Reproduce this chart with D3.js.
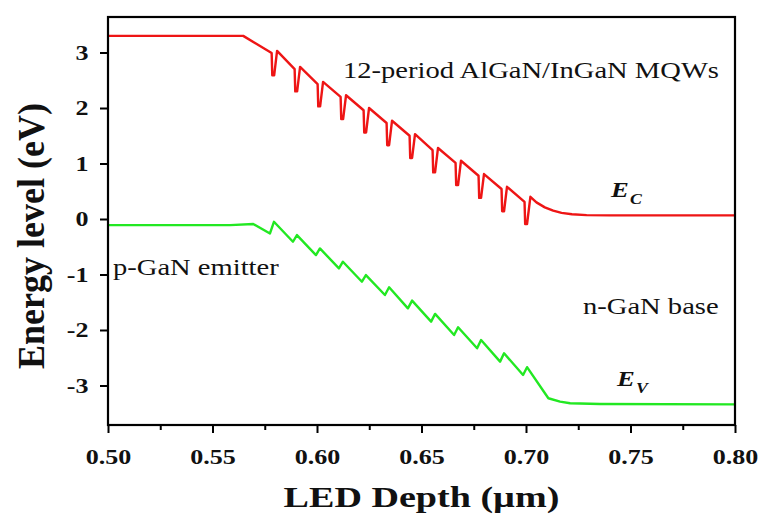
<!DOCTYPE html>
<html>
<head>
<meta charset="utf-8">
<script src="https://cdn.jsdelivr.net/npm/d3@7"></script>
<style>
  html, body { margin: 0; padding: 0; background: #fff; }
  svg { display: block; }
  text { font-family: "Liberation Serif", "Times New Roman", serif; }
</style>
</head>
<body>
<svg id="chart" width="760" height="519"></svg>
<script>
// ---- data ----
const xTicks = [0.50, 0.55, 0.60, 0.65, 0.70, 0.75, 0.80];
const xMinorTicks = [0.525, 0.575, 0.625, 0.675, 0.725, 0.775];
const yTicks = [-3, -2, -1, 0, 1, 2, 3];

// Conduction band Ec (red): depth (µm) and energy (eV)
const ecDepth = [
  0.5000, 0.5647,
  0.5783, 0.5786, 0.5795, 0.5809,
  0.5893, 0.5896, 0.5905, 0.5919,
  0.6003, 0.6006, 0.6015, 0.6029,
  0.6113, 0.6116, 0.6125, 0.6139,
  0.6223, 0.6226, 0.6235, 0.6249,
  0.6333, 0.6336, 0.6345, 0.6359,
  0.6443, 0.6446, 0.6455, 0.6469,
  0.6553, 0.6556, 0.6565, 0.6579,
  0.6663, 0.6666, 0.6675, 0.6689,
  0.6773, 0.6776, 0.6785, 0.6799,
  0.6883, 0.6886, 0.6895, 0.6909,
  0.6993, 0.6996, 0.7005, 0.7021,
  0.7050, 0.7090, 0.7130, 0.7170, 0.7220, 0.7290, 0.7400, 0.8000
];
const ecEnergy = [
  3.30, 3.30,
  2.99, 2.59, 2.59, 3.03,
  2.70, 2.30, 2.30, 2.74,
  2.43, 2.03, 2.03, 2.47,
  2.20, 1.80, 1.80, 2.23,
  1.96, 1.56, 1.56, 2.00,
  1.73, 1.33, 1.33, 1.77,
  1.50, 1.10, 1.10, 1.53,
  1.24, 0.84, 0.84, 1.28,
  1.01, 0.61, 0.61, 1.05,
  0.78, 0.38, 0.38, 0.81,
  0.54, 0.14, 0.14, 0.58,
  0.31, -0.09, -0.09, 0.40,
  0.30, 0.21, 0.15, 0.11, 0.085, 0.07, 0.065, 0.065
];

// Valence band Ev (green)
const evDepth = [
  0.5000, 0.5584, 0.5695,
  0.5775, 0.5794,
  0.5885, 0.5904,
  0.5995, 0.6014,
  0.6105, 0.6124,
  0.6215, 0.6234,
  0.6325, 0.6345,
  0.6435, 0.6455,
  0.6546, 0.6565,
  0.6656, 0.6675,
  0.6766, 0.6785,
  0.6876, 0.6895,
  0.6986, 0.7005,
  0.7107, 0.7163, 0.7211, 0.7354, 0.8000
];
const evEnergy = [
  -0.11, -0.11, -0.09,
  -0.26, -0.05,
  -0.41, -0.29,
  -0.65, -0.53,
  -0.89, -0.77,
  -1.13, -1.01,
  -1.37, -1.23,
  -1.61, -1.47,
  -1.85, -1.71,
  -2.09, -1.95,
  -2.33, -2.18,
  -2.57, -2.42,
  -2.81, -2.67,
  -3.23, -3.29, -3.32, -3.333, -3.34
];

// ---- layout ----
const svg = d3.select("#chart");
const L = 108, R = 735, T = 17, B = 425;
const SX = 1.27; // horizontal text stretch seen in the reference

const x = d3.scaleLinear().domain([0.5, 0.8]).range([L, R]);
const y = d3.scaleLinear().domain([-3.712, 3.64]).range([B, T]);

svg.append("defs").append("clipPath").attr("id", "clip")
  .append("rect").attr("x", L).attr("y", T).attr("width", R - L).attr("height", B - T);

const line = d3.line().x(d => x(d[0])).y(d => y(d[1]));

const ec = ecDepth.map((d, i) => [d, ecEnergy[i]]);
const ev = evDepth.map((d, i) => [d, evEnergy[i]]);

const plot = svg.append("g").attr("clip-path", "url(#clip)");
plot.append("path").datum(ec).attr("d", line)
  .attr("fill", "none").attr("stroke", "#ee1515").attr("stroke-width", 2.4)
  .attr("stroke-linejoin", "round");
plot.append("path").datum(ev).attr("d", line)
  .attr("fill", "none").attr("stroke", "#22e822").attr("stroke-width", 2.4)
  .attr("stroke-linejoin", "round");

// frame
svg.append("rect").attr("x", L).attr("y", T).attr("width", R - L).attr("height", B - T)
  .attr("fill", "none").attr("stroke", "#000").attr("stroke-width", 2.2);

// x axis
const xAxis = svg.append("g").attr("transform", `translate(0,${B})`)
  .call(d3.axisBottom(x).tickValues(xTicks).tickFormat(d3.format(".2f"))
    .tickSize(8).tickSizeOuter(0).tickPadding(16));
xAxis.select(".domain").remove();
xAxis.selectAll(".tick line").attr("stroke", "#000").attr("stroke-width", 2);
xAxis.selectAll(".tick text")
  .attr("font-family", "Liberation Serif").attr("font-weight", "bold")
  .attr("font-size", 20.5).attr("fill", "#111")
  .attr("transform", `scale(${SX},1)`);

const xMinor = svg.append("g").attr("transform", `translate(0,${B})`)
  .call(d3.axisBottom(x).tickValues(xMinorTicks).tickFormat("").tickSize(5).tickSizeOuter(0));
xMinor.select(".domain").remove();
xMinor.selectAll(".tick line").attr("stroke", "#000").attr("stroke-width", 2);

// y axis
const yAxis = svg.append("g").attr("transform", `translate(${L},0)`)
  .call(d3.axisLeft(y).tickValues(yTicks).tickFormat(d3.format("d"))
    .tickSize(8).tickSizeOuter(0));
yAxis.select(".domain").remove();
yAxis.selectAll(".tick line").attr("stroke", "#000").attr("stroke-width", 2);
yAxis.selectAll(".tick text")
  .attr("font-family", "Liberation Serif").attr("font-weight", "bold")
  .attr("font-size", 20.5).attr("fill", "#111")
  .attr("x", -19.5 / SX)
  .attr("transform", `scale(${SX},1)`)
  .text(d => d < 0 ? "-" + Math.abs(d) : d);

// axis titles
svg.append("text")
  .attr("transform", `translate(${(L + R) / 2},507) scale(${SX},1)`)
  .attr("text-anchor", "middle").attr("font-weight", "bold").attr("font-size", 30)
  .attr("fill", "#111")
  .text("LED Depth (µm)");

svg.append("text")
  .attr("transform", `translate(44,236) scale(1.05,1) rotate(-90)`)
  .attr("text-anchor", "middle").attr("font-weight", "bold").attr("font-size", 36)
  .attr("fill", "#111")
  .text("Energy level (eV)");

// annotations
function note(tx, ty, str, size) {
  svg.append("text")
    .attr("transform", `translate(${tx},${ty}) scale(${SX},1)`)
    .attr("font-size", size).attr("fill", "#111").text(str);
}
note(343, 78, "12-period AlGaN/InGaN MQWs", 22.5);
note(113, 275, "p-GaN emitter", 22.5);
note(583, 314, "n-GaN base", 22.5);

function band(tx, ty, sub) {
  const t = svg.append("text")
    .attr("transform", `translate(${tx},${ty}) scale(${SX},1)`)
    .attr("font-weight", "bold").attr("font-style", "italic").attr("fill", "#111");
  t.append("tspan").attr("font-size", 21).text("E");
  t.append("tspan").attr("font-size", 14).attr("dy", 7).attr("dx", 1).text(sub);
}
band(611, 197, "C");
band(617, 386, "V");
</script>
</body>
</html>
